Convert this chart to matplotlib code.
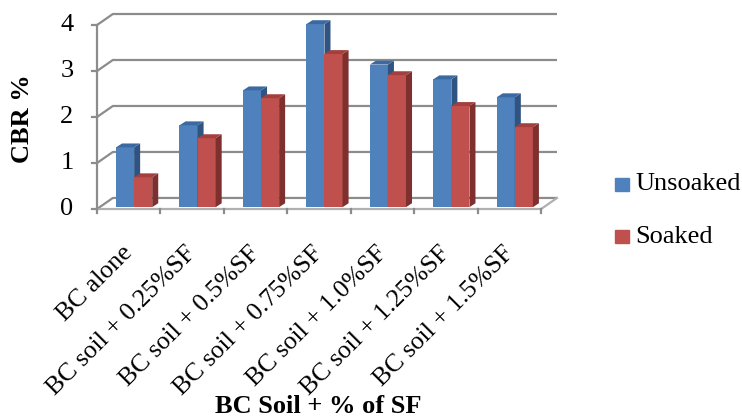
import matplotlib
matplotlib.use("Agg")
import matplotlib.pyplot as plt
from matplotlib.patches import Polygon, Rectangle

categories = ["BC alone", "BC soil + 0.25%SF", "BC soil + 0.5%SF", "BC soil + 0.75%SF",
              "BC soil + 1.0%SF", "BC soil + 1.25%SF", "BC soil + 1.5%SF"]
unsoaked = [1.30, 1.78, 2.54, 3.98, 3.10, 2.78, 2.39]
soaked = [0.65, 1.50, 2.37, 3.33, 2.87, 2.20, 1.74]
yticks = [0, 1, 2, 3, 4]
series_names = ["Unsoaked", "Soaked"]

plt.rcParams['font.family'] = ['Liberation Serif', 'DejaVu Serif']
FS = 19

W, H = 742, 419
fig = plt.figure(figsize=(W / 100, H / 100), dpi=100)
left_px, right_px, bot_px, top_px = 97, 557, 209, 14
ax = fig.add_axes([left_px / W, 1 - bot_px / H, (right_px - left_px) / W, (bot_px - top_px) / H])
n = len(categories)
ax.set_xlim(0, n + 0.25)
ax.set_ylim(0, 4.24)
ax.axis('off')

grid_c = '#8c8c8c'
dx, dy = 0.25, 0.24  # back wall offset in data units

for v in yticks:
    ax.plot([0, dx, n + dx], [v, v + dy, v + dy], color=grid_c, lw=1.6, zorder=1,
            solid_capstyle='butt', clip_on=False)
ax.plot([0, n, n + dx], [0, 0, dy], color='#b0b0b0', lw=1.6, zorder=1, clip_on=False)
ax.plot([0, 0], [0, 4], color=grid_c, lw=1.6, zorder=5, clip_on=False)
for v in yticks:
    ax.plot([-0.08, 0], [v, v], color=grid_c, lw=1.6, zorder=5, clip_on=False)
    ax.text(-0.37, v, str(v), ha='right', va='center', fontsize=FS)
for i in range(n + 1):
    ax.plot([i, i], [0, -0.09], color=grid_c, lw=1.6, zorder=5, clip_on=False)

bw = 0.285
off0 = 0.27
bdx, bdy = 0.095, 0.085
fz, fy = 0.03, 0.04
cols = [('#4f81bd', '#2f5482', '#3b6aa3'), ('#c0504d', '#7e302e', '#a33f3c')]
for i in range(n):
    for s, vals in enumerate([unsoaked, soaked]):
        front, side, top = cols[s]
        x0 = i + off0 + s * bw + fz
        y0 = fy
        h = vals[i]
        z = 3 + s * 0.1 + i * 0.01
        ax.bar(x0, h, width=bw, bottom=y0, align='edge', color=front, zorder=z, linewidth=0)
        ax.add_patch(Polygon([(x0 + bw, y0), (x0 + bw + bdx, y0 + bdy), (x0 + bw + bdx, y0 + h + bdy),
                              (x0 + bw, y0 + h)], closed=True, color=side, lw=0, zorder=z))
        ax.add_patch(Polygon([(x0, y0 + h), (x0 + bw, y0 + h), (x0 + bw + bdx, y0 + h + bdy),
                              (x0 + bdx, y0 + h + bdy)], closed=True, color=top, lw=0, zorder=z))

for i, c in enumerate(categories):
    ax.text(i + 0.63, -0.72, c, rotation=45, ha='right', va='top', fontsize=18.5,
            rotation_mode='default')

fig.text(23 / W, 1 - 119 / H, "CBR %", rotation=90, ha='center', va='center',
         fontsize=FS, fontweight='bold')
fig.text(318 / W, 1 - 406 / H, "BC Soil + % of SF", ha='center', va='center',
         fontsize=FS, fontweight='bold')

for k, (name, yc) in enumerate(zip(series_names, [184, 237])):
    fig.patches.append(Rectangle((615 / W, 1 - (yc + 6.5) / H), 14 / W, 13 / H,
                                 transform=fig.transFigure, color=cols[k][0], figure=fig))
    fig.text(635 / W, 1 - yc / H, name, ha='left', va='center', fontsize=FS)

fig.savefig("out.png", dpi=100, facecolor='white')
